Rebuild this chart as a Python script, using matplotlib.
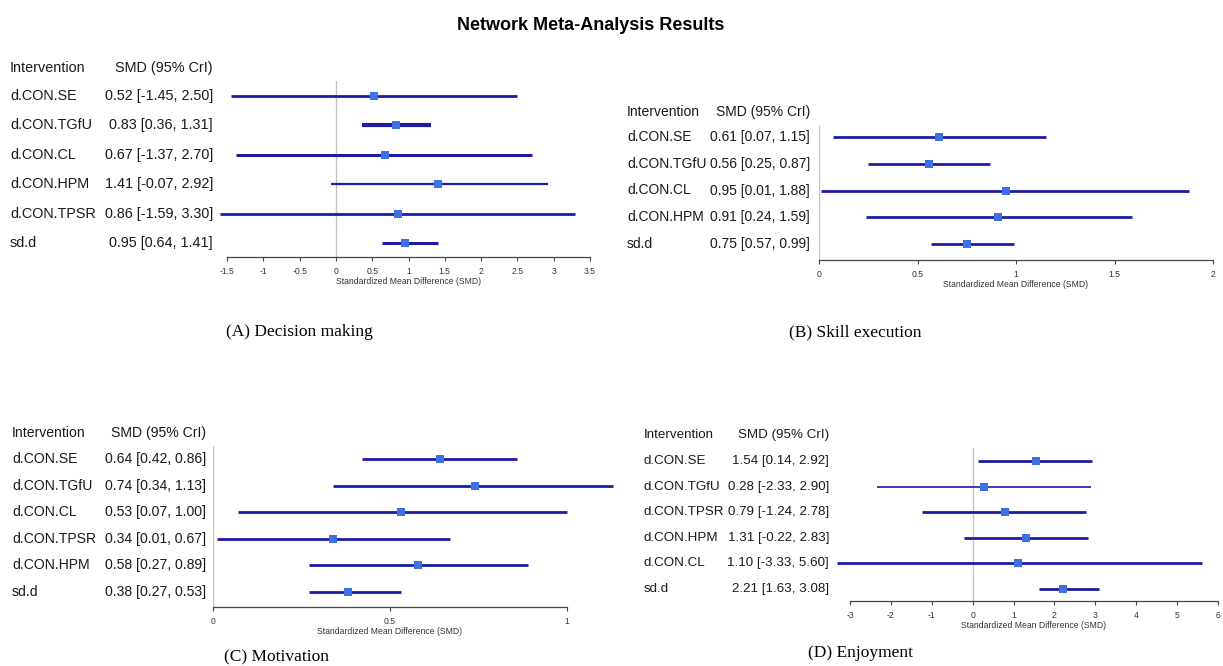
import matplotlib
matplotlib.use("Agg")
import matplotlib.pyplot as plt
import matplotlib.transforms as mtransforms

W, H = 1223, 666

# panel A: decision making
a_labels = ["d.CON.SE", "d.CON.TGfU", "d.CON.CL", "d.CON.HPM", "d.CON.TPSR", "sd.d"]
a_mean = [0.52, 0.83, 0.67, 1.41, 0.86, 0.95]
a_low = [-1.45, 0.36, -1.37, -0.07, -1.59, 0.64]
a_high = [2.50, 1.31, 2.70, 2.92, 3.30, 1.41]
a_ticks = [-1.5, -1, -0.5, 0, 0.5, 1, 1.5, 2, 2.5, 3, 3.5]

# panel B: skill execution
b_labels = ["d.CON.SE", "d.CON.TGfU", "d.CON.CL", "d.CON.HPM", "sd.d"]
b_mean = [0.61, 0.56, 0.95, 0.91, 0.75]
b_low = [0.07, 0.25, 0.01, 0.24, 0.57]
b_high = [1.15, 0.87, 1.88, 1.59, 0.99]
b_ticks = [0, 0.5, 1, 1.5, 2]

# panel C: motivation
c_labels = ["d.CON.SE", "d.CON.TGfU", "d.CON.CL", "d.CON.TPSR", "d.CON.HPM", "sd.d"]
c_mean = [0.64, 0.74, 0.53, 0.34, 0.58, 0.38]
c_low = [0.42, 0.34, 0.07, 0.01, 0.27, 0.27]
c_high = [0.86, 1.13, 1.00, 0.67, 0.89, 0.53]
c_ticks = [0, 0.5, 1]

# panel D: enjoyment
d_labels = ["d.CON.SE", "d.CON.TGfU", "d.CON.TPSR", "d.CON.HPM", "d.CON.CL", "sd.d"]
d_mean = [1.54, 0.28, 0.79, 1.31, 1.10, 2.21]
d_low = [0.14, -2.33, -1.24, -0.22, -3.33, 1.63]
d_high = [2.92, 2.90, 2.78, 2.83, 5.60, 3.08]
d_ticks = [-3, -2, -1, 0, 1, 2, 3, 4, 5, 6]

LINE_COLOR = "#1c1ca4"
BOX_COLOR = "#3f6fe4"
TEXT_COLOR = "#1a1a1a"

plt.rcParams["font.family"] = ["Liberation Sans", "DejaVu Sans"]

fig = plt.figure(figsize=(W / 100, H / 100), dpi=100)
fig.patch.set_facecolor("white")

fig.text(591 / W, 1 - 25 / H, "Network Meta-Analysis Results",
         family=["Liberation Sans Narrow", "Liberation Sans", "DejaVu Sans"],
         fontweight="bold", fontsize=13, ha="center", va="center", color="black")


def px(x):
    return x / W


def forest(labels, mean, low, high, ticks, box, first_row, spacing, header_y,
           name_x, value_x, fontsize, widths, caption, cap_x, cap_y):
    x0, x1, top, bottom = box
    ax = fig.add_axes([x0 / W, 1 - bottom / H, (x1 - x0) / W, (bottom - top) / H])
    n = len(labels)
    ax.set_xlim(ticks[0], ticks[-1])
    ax.set_ylim(n + (bottom - (first_row + (n - 1) * spacing)) / spacing,
                1 - (first_row - top) / spacing)

    # zero reference line
    ax.axvline(0, color="#c4c4c4", linewidth=1.0, zorder=1)

    rows = list(range(1, n + 1))
    for i, r in enumerate(rows):
        ax.plot([low[i], high[i]], [r, r], color=LINE_COLOR, linewidth=widths[i],
                solid_capstyle="butt", clip_on=False, zorder=2)
    ax.plot(mean, rows, linestyle="none", marker="s", markersize=5.4,
            color=BOX_COLOR, markeredgewidth=0, clip_on=False, zorder=3)

    for s in ["top", "right", "left"]:
        ax.spines[s].set_visible(False)
    ax.spines["bottom"].set_color("#444444")
    ax.spines["bottom"].set_linewidth(0.9)
    ax.set_yticks([])
    ax.set_xticks(ticks)
    ax.set_xticklabels([f"{t:g}" for t in ticks])
    ax.tick_params(axis="x", length=3.2, width=0.8, color="#444444", pad=4.0,
                   labelsize=6.2, labelcolor="#333333")
    ax.set_xlabel("Standardized Mean Difference (SMD)", fontsize=6.2,
                  color="#333333", labelpad=0.5)

    trans = mtransforms.blended_transform_factory(fig.transFigure, ax.transData)
    head_row = 1 - (first_row - header_y) / spacing
    ax.text(px(name_x), head_row, "Intervention", transform=trans, ha="left",
            va="center", fontsize=fontsize, color=TEXT_COLOR, clip_on=False)
    ax.text(px(value_x), head_row, "SMD (95% CrI)", transform=trans, ha="right",
            va="center", fontsize=fontsize, color=TEXT_COLOR, clip_on=False)
    for i, r in enumerate(rows):
        ax.text(px(name_x), r, labels[i], transform=trans, ha="left", va="center",
                fontsize=fontsize, color=TEXT_COLOR, clip_on=False)
        ax.text(px(value_x), r, f"{mean[i]:.2f} [{low[i]:.2f}, {high[i]:.2f}]",
                transform=trans, ha="right", va="center", fontsize=fontsize,
                color=TEXT_COLOR, clip_on=False)

    fig.text(px(cap_x), 1 - cap_y / H, caption, family=["Liberation Serif"],
             fontsize=12.5, ha="center", va="center", color="black")


forest(a_labels, a_mean, a_low, a_high, a_ticks, (227, 590, 81, 257),
       96, 29.4, 68, 10, 213, 10.4, [2.0, 3.0, 2.2, 1.6, 2.0, 2.2],
       "(A) Decision making", 299, 332)
forest(b_labels, b_mean, b_low, b_high, b_ticks, (819, 1213, 125, 260),
       137, 26.75, 112, 627, 810, 10.0, [2.0, 2.0, 2.0, 2.0, 2.0],
       "(B) Skill execution", 855, 332)
forest(c_labels, c_mean, c_low, c_high, c_ticks, (213, 567, 446, 607),
       459, 26.6, 433, 12, 206, 10.1, [2.0, 2.0, 2.0, 2.0, 2.0, 2.0],
       "(C) Motivation", 277, 657)
forest(d_labels, d_mean, d_low, d_high, d_ticks, (850, 1218, 448, 601),
       461, 25.6, 435, 644, 829, 9.6, [2.0, 1.2, 2.0, 2.0, 2.0, 2.0],
       "(D) Enjoyment", 861, 653)

fig.savefig("out.png", dpi=100, facecolor="white")
